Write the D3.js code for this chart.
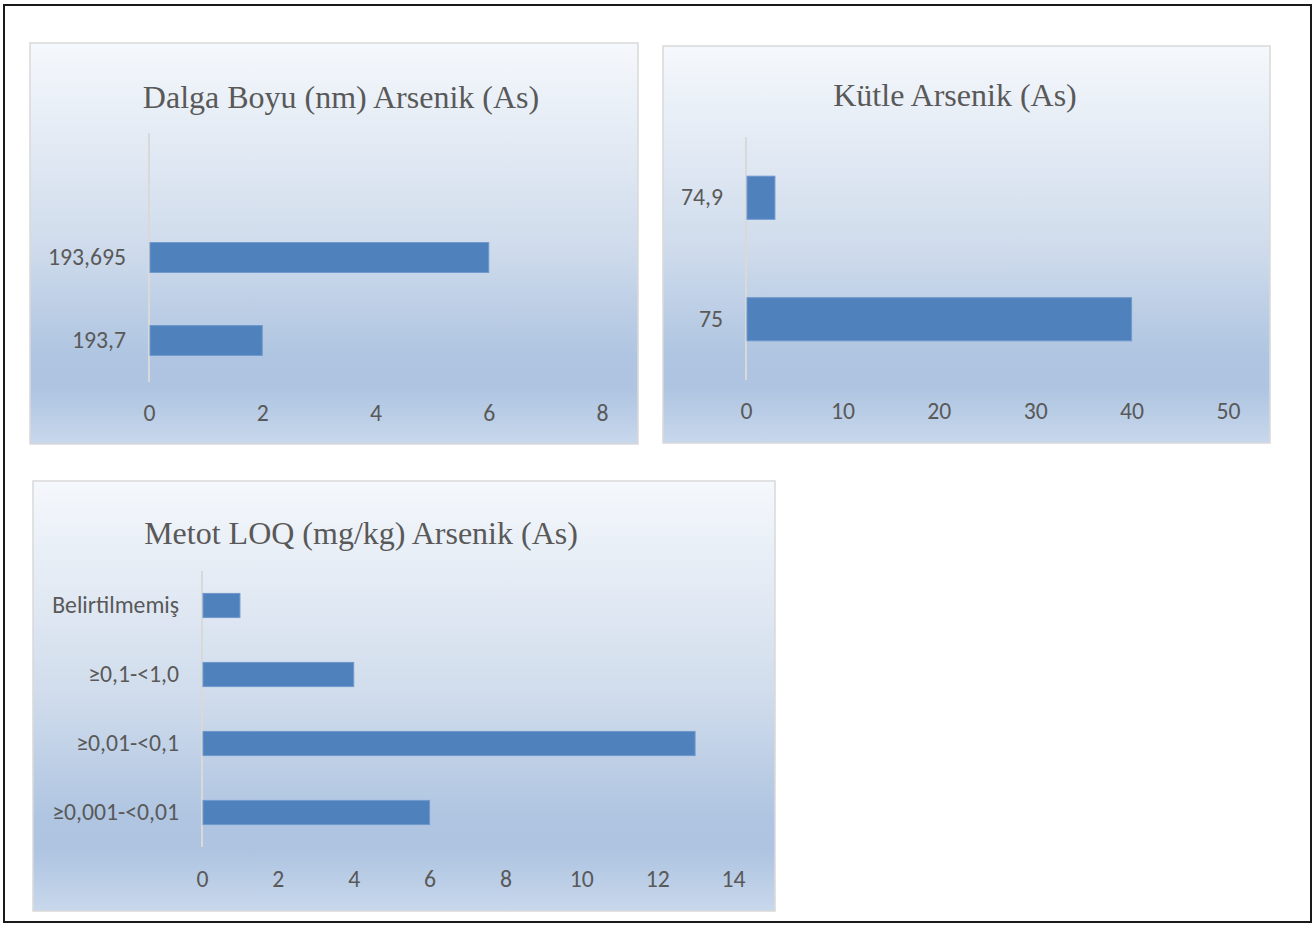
<!DOCTYPE html>
<html><head><meta charset="utf-8">
<script src="https://cdn.jsdelivr.net/npm/d3@7"></script>
<style>body{margin:0;background:#fff} svg{display:block}</style>
</head><body>
<svg id="c" width="1315" height="925"></svg>
<script>
// ---- data ----
const dalgaTitle = "Dalga Boyu (nm) Arsenik (As)";
const dalgaCategories = ["", "193,695", "193,7"];
const dalgaValues = [null, 6, 2];
const dalgaTicks = [0, 2, 4, 6, 8];

const kutleTitle = "Kütle Arsenik (As)";
const kutleCategories = ["74,9", "75"];
const kutleValues = [3, 40];
const kutleTicks = [0, 10, 20, 30, 40, 50];

const loqTitle = "Metot LOQ (mg/kg) Arsenik (As)";
const loqCategories = ["Belirtilmemiş", "≥0,1-<1,0", "≥0,01-<0,1", "≥0,001-<0,01"];
const loqValues = [1, 4, 13, 6];
const loqTicks = [0, 2, 4, 6, 8, 10, 12, 14];

// ---- layout ----
const svg = d3.select("#c");
const defs = svg.append("defs");
const grad = defs.append("linearGradient").attr("id", "bg").attr("x1", 0).attr("y1", 0).attr("x2", 0).attr("y2", 1);
[[0, "#f5f8fc"], [0.5, "#d0dcec"], [0.78, "#afc5e1"], [0.86, "#aec4e1"], [1, "#c8d8ec"]]
  .forEach(([o, c]) => grad.append("stop").attr("offset", o).attr("stop-color", c));

svg.append("rect").attr("x", 4).attr("y", 5).attr("width", 1307).attr("height", 917)
  .attr("fill", "none").attr("stroke", "#1a1a1a").attr("stroke-width", 2);

const tickFont = "Carlito, Lato, 'Open Sans', sans-serif";
const tickSize = 23.7;

function panel(cfg) {
  const g = svg.append("g");
  g.append("rect").attr("x", cfg.box[0]).attr("y", cfg.box[1]).attr("width", cfg.box[2]).attr("height", cfg.box[3])
    .attr("fill", "url(#bg)").attr("stroke", "#d9d9d9").attr("stroke-width", 1.5);
  g.append("text").attr("x", cfg.titleX).attr("y", cfg.titleY).attr("text-anchor", "middle")
    .attr("font-family", "'Liberation Serif', 'Times New Roman', serif").attr("font-size", 32)
    .attr("fill", "#595959").text(cfg.title);

  const x = d3.scaleLinear().domain([0, d3.max(cfg.ticks)]).range([cfg.x0, cfg.x1]);
  const y = d3.scaleBand().domain(cfg.categories).range([cfg.top, cfg.bottom]).paddingInner(cfg.pad).paddingOuter(cfg.pad / 2);

  const xAxis = d3.axisBottom(x).tickValues(cfg.ticks).tickSize(0).tickPadding(0).tickFormat(d3.format("d"));
  const xa = g.append("g").attr("transform", `translate(0,${cfg.tickY})`).call(xAxis);
  xa.select(".domain").remove();
  xa.selectAll("text").attr("font-family", tickFont).attr("font-size", tickSize).attr("fill", "#595959").attr("dy", 0);

  const yAxis = d3.axisLeft(y).tickSize(0).tickPadding(23);
  const ya = g.append("g").attr("transform", `translate(${cfg.x0},0)`).call(yAxis);
  ya.select(".domain").remove();
  ya.selectAll("text").attr("font-family", tickFont).attr("font-size", tickSize).attr("fill", "#595959").attr("dy", "0.32em");

  g.append("line").attr("x1", cfg.x0).attr("x2", cfg.x0).attr("y1", cfg.top).attr("y2", cfg.bottom)
    .attr("stroke", "#d9d9d9").attr("stroke-width", 2);

  const rows = cfg.categories.map((c, i) => ({ c, v: cfg.values[i] })).filter(d => d.v != null);
  g.selectAll("rect.bar").data(rows).join("rect").attr("class", "bar")
    .attr("x", x(0) + 1).attr("y", d => y(d.c))
    .attr("width", d => x(d.v) - x(0) - 1).attr("height", y.bandwidth())
    .attr("fill", "#4f81bd").attr("stroke", "#6f98cd").attr("stroke-width", 1);
}

panel({ box: [30, 43, 608, 401], title: dalgaTitle, titleX: 341, titleY: 108,
  categories: dalgaCategories, values: dalgaValues, ticks: dalgaTicks,
  x0: 149, x1: 602, top: 133, bottom: 382, pad: 0.64, tickY: 421 });
panel({ box: [663, 46, 607, 397], title: kutleTitle, titleX: 955, titleY: 106,
  categories: kutleCategories, values: kutleValues, ticks: kutleTicks,
  x0: 746, x1: 1228, top: 137, bottom: 380, pad: 0.645, tickY: 419 });
panel({ box: [33, 481, 742, 430], title: loqTitle, titleX: 361, titleY: 544,
  categories: loqCategories, values: loqValues, ticks: loqTicks,
  x0: 202, x1: 733, top: 571, bottom: 847, pad: 0.65, tickY: 887 });
</script>
</body></html>
